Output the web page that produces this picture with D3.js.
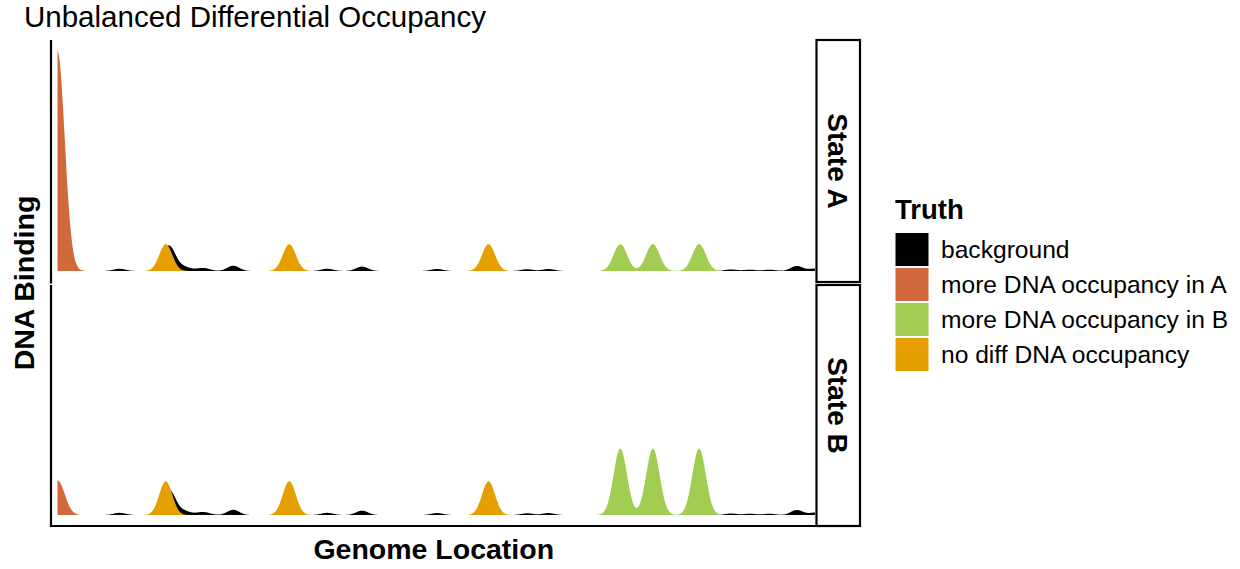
<!DOCTYPE html>
<html>
<head>
<meta charset="utf-8">
<script src="https://cdn.jsdelivr.net/npm/d3@7"></script>
<style>
  html, body { margin: 0; padding: 0; background: #fff; }
  svg { display: block; font-family: "Liberation Sans", Arial, sans-serif; }
</style>
</head>
<body>
<svg id="chart" width="1240" height="569"></svg>
<script>
// ---- data -------------------------------------------------------------
const states = ["State A", "State B"];
const truthLevels = ["background", "more DNA occupancy in A", "more DNA occupancy in B", "no diff DNA occupancy"];
const truthColors = ["#000000", "#D2693C", "#A2CD53", "#E69F00"];

// genome location span (kb)
const genomeDomain = [0, 1000];
// binding signal span
const bindingDomain = [0, 100];

// called peaks: centre (kb), width (kb), truth class, height per state
const peakCenter = [0, 143, 306, 569, 743, 786, 847];
const peakWidth  = [9.5, 8.6, 8.6, 8.6, 8.9, 8.9, 8.9];
const peakTruth  = ["more DNA occupancy in A", "no diff DNA occupancy", "no diff DNA occupancy", "no diff DNA occupancy",
                    "more DNA occupancy in B", "more DNA occupancy in B", "more DNA occupancy in B"];
const peakHeightA = [100, 12.2, 12.2, 12.2, 12.2, 12.2, 12.2];
const peakHeightB = [15.8, 15.4, 15.4, 15.4, 30.3, 30.3, 30.3];

// background signal bumps: centre (kb), height, width (kb)
const bgCenter = [82, 147, 168, 192, 232, 356, 402, 501, 620, 648, 889, 914, 940, 976, 1000];
const bgHeight = [1.0, 11.6, 1.6, 1.4, 2.4, 1.0, 2.0, 0.9, 0.8, 0.9, 0.7, 0.6, 0.6, 2.3, 1.1];
const bgWidth  = [8, 8.8, 8, 9, 8, 8, 8, 8, 8, 8, 8, 8, 8, 8, 8];

// ---- layout -------------------------------------------------------------
const svg = d3.select("#chart");
const panelLeft = 51, panelRight = 816.5;
const panels = [
  { state: states[0], top: 40, bottom: 282, heights: peakHeightA },
  { state: states[1], top: 285, bottom: 526, heights: peakHeightB }
];
const stripLeft = 816.5, stripRight = 860;

const x = d3.scaleLinear().domain(genomeDomain).range([57.5, 815]);
const grid = d3.range(genomeDomain[0], genomeDomain[1] + 0.25, 0.5);

const kernel = (u, c, w) => Math.exp(-0.5 * ((u - c) / w) ** 2);

function backgroundSignal(u) {
  let s = 0;
  for (let i = 0; i < bgCenter.length; i++) s += bgHeight[i] * kernel(u, bgCenter[i], bgWidth[i]);
  return s;
}
function classSignal(u, cls, heights) {
  let s = 0;
  for (let i = 0; i < peakCenter.length; i++) {
    if (peakTruth[i] === cls) s += heights[i] * kernel(u, peakCenter[i], peakWidth[i]);
  }
  return s;
}

const defs = svg.append("defs");

panels.forEach((p, k) => {
  const pad = (bindingDomain[1] - bindingDomain[0]) * 0.05;
  const y = d3.scaleLinear()
    .domain([bindingDomain[0] - pad, bindingDomain[1] + pad])
    .range([p.bottom, p.top]);

  defs.append("clipPath").attr("id", "clip" + k)
    .append("rect")
    .attr("x", panelLeft).attr("y", p.top)
    .attr("width", panelRight - panelLeft).attr("height", p.bottom - p.top);

  const g = svg.append("g").attr("clip-path", `url(#clip${k})`);

  const area = d3.area()
    .x(d => x(d.u))
    .y0(y(0))
    .y1(d => y(d.v))
    .curve(d3.curveLinear);

  // background first, classified peaks drawn over it
  g.append("path")
    .datum(grid.map(u => ({ u, v: backgroundSignal(u) })))
    .attr("d", area)
    .attr("fill", truthColors[0]);

  truthLevels.slice(1).forEach((cls, j) => {
    g.append("path")
      .datum(grid.map(u => ({ u, v: classSignal(u, cls, p.heights) })))
      .attr("d", area)
      .attr("fill", truthColors[j + 1]);
  });

  // left axis line
  svg.append("line")
    .attr("x1", panelLeft).attr("x2", panelLeft)
    .attr("y1", p.top).attr("y2", p.bottom + (k === 1 ? 1.1 : 1.5))
    .attr("stroke", "#000").attr("stroke-width", 2.2);

  // facet strip
  svg.append("rect")
    .attr("x", stripLeft).attr("y", p.top)
    .attr("width", stripRight - stripLeft).attr("height", p.bottom - p.top)
    .attr("fill", "#fff").attr("stroke", "#000").attr("stroke-width", 2.2);
  svg.append("text")
    .attr("transform", `translate(${(stripLeft + stripRight) / 2},${(p.top + p.bottom) / 2}) rotate(90)`)
    .attr("text-anchor", "middle")
    .attr("dy", "0.35em")
    .attr("font-size", 28).attr("font-weight", "bold")
    .text(p.state);
});

// bottom axis line
svg.append("line")
  .attr("x1", panelLeft - 1.1).attr("x2", panelRight)
  .attr("y1", panels[1].bottom).attr("y2", panels[1].bottom)
  .attr("stroke", "#000").attr("stroke-width", 2.2);

// titles
svg.append("text")
  .attr("x", 24).attr("y", 27)
  .attr("font-size", 29.5)
  .text("Unbalanced Differential Occupancy");

svg.append("text")
  .attr("x", (panelLeft + panelRight) / 2).attr("y", 559)
  .attr("text-anchor", "middle")
  .attr("font-size", 28.5).attr("font-weight", "bold")
  .text("Genome Location");

svg.append("text")
  .attr("transform", `translate(34,${(panels[0].top + panels[1].bottom) / 2}) rotate(-90)`)
  .attr("text-anchor", "middle")
  .attr("font-size", 28.5).attr("font-weight", "bold")
  .text("DNA Binding");

// legend
const legend = svg.append("g").attr("transform", "translate(895,0)");
legend.append("text")
  .attr("x", 0).attr("y", 219)
  .attr("font-size", 27.5).attr("font-weight", "bold")
  .text("Truth");

const keySize = 33, keyStep = 35, keyTop = 233;
truthLevels.forEach((lvl, i) => {
  legend.append("rect")
    .attr("x", 0.5).attr("y", keyTop + i * keyStep)
    .attr("width", keySize).attr("height", keySize)
    .attr("fill", truthColors[i]);
  legend.append("text")
    .attr("x", 46).attr("y", keyTop + i * keyStep + keySize / 2)
    .attr("dy", "0.35em")
    .attr("font-size", 24.6)
    .text(lvl);
});
</script>
</body>
</html>
